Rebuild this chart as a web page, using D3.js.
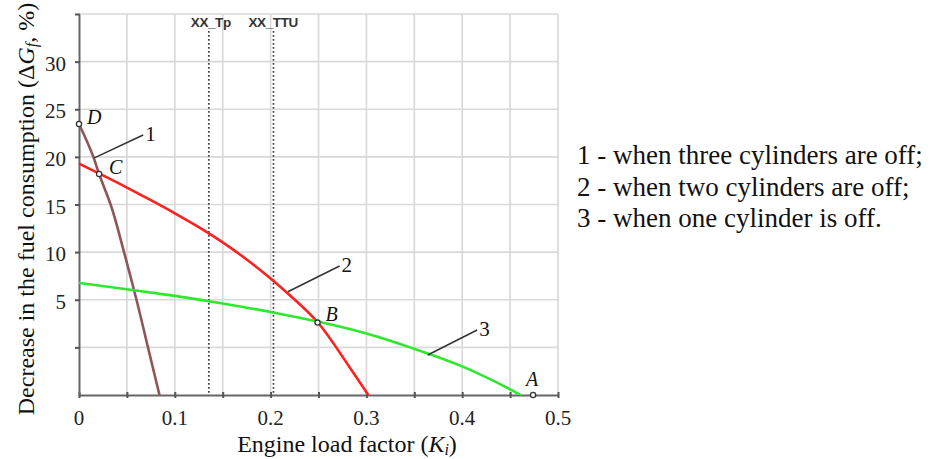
<!DOCTYPE html>
<html><head><meta charset="utf-8">
<script src="https://cdn.jsdelivr.net/npm/d3@7"></script>
<style>
html,body{margin:0;padding:0;background:#fff;}
svg{display:block;}
</style></head>
<body>
<svg id="chart" width="931" height="459"></svg>
<script>
// ---- data ----
const xTickValues = [0, 0.1, 0.2, 0.3, 0.4, 0.5];
const xTickLabels = ["0", "0.1", "0.2", "0.3", "0.4", "0.5"];
const yTickValues = [0, 5, 10, 15, 20, 25, 30];
const yTickLabels = ["", "5", "10", "15", "20", "25", "30"];
const xGridValues = [0.05, 0.1, 0.15, 0.2, 0.25, 0.3, 0.35, 0.4, 0.45, 0.5];
const yGridValues = [0, 5, 10, 15, 20, 25, 30, 35];

// curve 1: three cylinders off (brown)
const curve1K = [0, 0.015, 0.021, 0.033, 0.047, 0.060, 0.072, 0.084];
const curve1G = [23.45, 20, 18.2, 15, 10, 5, 0, -5];
// curve 2: two cylinders off (red)
const curve2K = [0, 0.025, 0.05, 0.075, 0.1, 0.125, 0.15, 0.175, 0.2, 0.225, 0.25, 0.275, 0.302];
const curve2G = [19.3, 18.05, 16.78, 15.45, 14.08, 12.63, 11.03, 9.23, 7.23, 5.03, 2.53, -0.97, -5];
// curve 3: one cylinder off (green)
const curve3K = [0, 0.05, 0.1, 0.15, 0.2, 0.25, 0.3, 0.35, 0.4, 0.45, 0.46];
const curve3G = [6.76, 6.11, 5.41, 4.61, 3.71, 2.68, 1.45, -0.15, -2.0, -4.4, -5];

// marked points
const pointNames = ["D", "C", "B", "A"];
const pointK = [0, 0.021, 0.249, 0.474];
const pointG = [23.45, 18.2, 2.6, -5];

// reference verticals
const refNames = ["XX_Tp", "XX_TTU"];
const refK = [0.1355, 0.203];

// leader lines to curve numbers
const leaderNames = ["1", "2", "3"];
const leaderFromK = [0.016, 0.218, 0.364];
const leaderFromG = [19.9, 5.84, -0.8];
const leaderToK = [0.067, 0.272, 0.4156];
const leaderToG = [22.3, 8.54, 1.82];

const legendLines = ["1 - when three cylinders are off;", "2 - when two cylinders are off;", "3 - when one cylinder is off."];

// ---- drawing ----
const serif = '"Liberation Serif","Times New Roman",serif';
const sans = '"Liberation Sans",Arial,sans-serif';
const svg = d3.select("#chart").style("font-family", serif);
const x = d3.scaleLinear().domain([0, 0.5]).range([79, 558]);
const y = d3.scaleLinear().domain([-5, 35]).range([395, 14]);

// grid
const grid = svg.append("g");
grid.selectAll("line.vx").data(xGridValues).join("line")
  .attr("x1", d => x(d)).attr("x2", d => x(d))
  .attr("y1", y(35)).attr("y2", y(-5))
  .attr("stroke", "#d9d9d9").attr("stroke-width", 1.7);
grid.selectAll("line.hy").data(yGridValues).join("line")
  .attr("x1", x(0)).attr("x2", x(0.5))
  .attr("y1", d => y(d)).attr("y2", d => y(d))
  .attr("stroke", "#d9d9d9").attr("stroke-width", 1.7);

// reference dotted verticals
refK.forEach((k, i) => {
  svg.append("line")
    .attr("x1", x(k)).attr("x2", x(k))
    .attr("y1", y(35) + 17).attr("y2", y(-5))
    .attr("stroke", "#444").attr("stroke-width", 1.7)
    .attr("stroke-dasharray", "1.7,2.3");
  svg.append("text")
    .attr("x", x(k) - (i === 0 ? 18 : 25)).attr("y", y(35) + 13)
    .style("font-family", sans)
    .attr("font-weight", "bold").attr("font-size", 13.5)
    .attr("letter-spacing", -0.4)
    .attr("fill", "#333").text(refNames[i]);
});

// axes
const xAxis = d3.axisBottom(x).tickValues(d3.range(0, 0.51, 0.05)).tickSize(0).tickFormat("");
const gx = svg.append("g").attr("transform", `translate(0,${y(-5)})`).call(xAxis);
gx.select(".domain").attr("stroke", "#666").attr("stroke-width", 2);
gx.selectAll(".tick").append("line").attr("y1", -3).attr("y2", 3).attr("stroke", "#555").attr("stroke-width", 2);

svg.selectAll("text.xt").data(xTickValues).join("text")
  .attr("x", d => x(d)).attr("y", y(-5) + 30)
  .attr("text-anchor", "middle").attr("font-size", 21).attr("fill", "#222")
  .text((d, i) => xTickLabels[i]);

const yAxis = d3.axisLeft(y).tickValues(yGridValues).tickSize(0).tickFormat("");
const gy = svg.append("g").attr("transform", `translate(${x(0)},0)`).call(yAxis);
gy.select(".domain").attr("stroke", "#666").attr("stroke-width", 2);
gy.selectAll(".tick").append("line").attr("x1", -4).attr("x2", 1).attr("stroke", "#555").attr("stroke-width", 2);

svg.selectAll("text.yt").data(yTickValues).join("text")
  .attr("x", x(0) - 13).attr("y", d => y(d) + 9)
  .attr("text-anchor", "end").attr("font-size", 21).attr("fill", "#222")
  .text((d, i) => yTickLabels[i]);

// curves
const lineX = d3.line().x(d => x(d[0])).y(d => y(d[1])).curve(d3.curveNatural);
const lineY = d3.line().x(d => x(d[0])).y(d => y(d[1])).curve(d3.curveMonotoneY);
const curves = [
  {k: curve1K, g: curve1G, color: "#8e5656", gen: lineY},
  {k: curve2K, g: curve2G, color: "#ff1f1f", gen: lineX},
  {k: curve3K, g: curve3G, color: "#2ee82e", gen: lineX}
];
curves.forEach(c => {
  const pts = c.k.map((k, j) => [k, c.g[j]]);
  svg.append("path").datum(pts)
    .attr("d", c.gen)
    .attr("fill", "none").attr("stroke", c.color).attr("stroke-width", 2.6);
});

// leaders
leaderNames.forEach((n, i) => {
  svg.append("line")
    .attr("x1", x(leaderFromK[i])).attr("y1", y(leaderFromG[i]))
    .attr("x2", x(leaderToK[i])).attr("y2", y(leaderToG[i]))
    .attr("stroke", "#333").attr("stroke-width", 1.5);
  svg.append("text")
    .attr("x", x(leaderToK[i]) + 2).attr("y", y(leaderToG[i]) + 6)
    .attr("font-size", 21).attr("fill", "#111").text(n);
});

// points
pointNames.forEach((n, i) => {
  svg.append("circle").attr("cx", x(pointK[i])).attr("cy", y(pointG[i])).attr("r", 2.6)
    .attr("fill", "#fff").attr("stroke", "#333").attr("stroke-width", 1.3);
  const dx = [8, 10, 8, -7][i], dy = [0, 0, -2, -9][i];
  svg.append("text")
    .attr("x", x(pointK[i]) + dx).attr("y", y(pointG[i]) + dy)
    .attr("font-size", 20).attr("font-style", "italic").attr("fill", "#111").text(n);
});

// x title
const xt = svg.append("text").attr("x", 347).attr("y", 452)
  .attr("text-anchor", "middle").attr("font-size", 24).attr("fill", "#111");
xt.append("tspan").text("Engine load factor (");
xt.append("tspan").attr("font-style", "italic").text("K");
xt.append("tspan").attr("font-style", "italic").attr("font-size", 16).attr("dy", 3).text("i");
xt.append("tspan").attr("dy", -3).text(")");

// y title
const yt = svg.append("text").attr("transform", "translate(34,209) rotate(-90)")
  .attr("text-anchor", "middle").attr("font-size", 24).attr("fill", "#111");
yt.append("tspan").text("Decrease in the fuel consumption (Δ");
yt.append("tspan").attr("font-style", "italic").text("G");
yt.append("tspan").attr("font-style", "italic").attr("font-size", 16).attr("dy", 3).text("f");
yt.append("tspan").attr("dy", -3).text(", %)");

// legend
svg.selectAll("text.leg").data(legendLines).join("text")
  .attr("x", 577).attr("y", (d, i) => 164 + i * 31.5)
  .attr("font-size", 27).attr("fill", "#111")
  .text(d => d);
</script>
</body></html>
